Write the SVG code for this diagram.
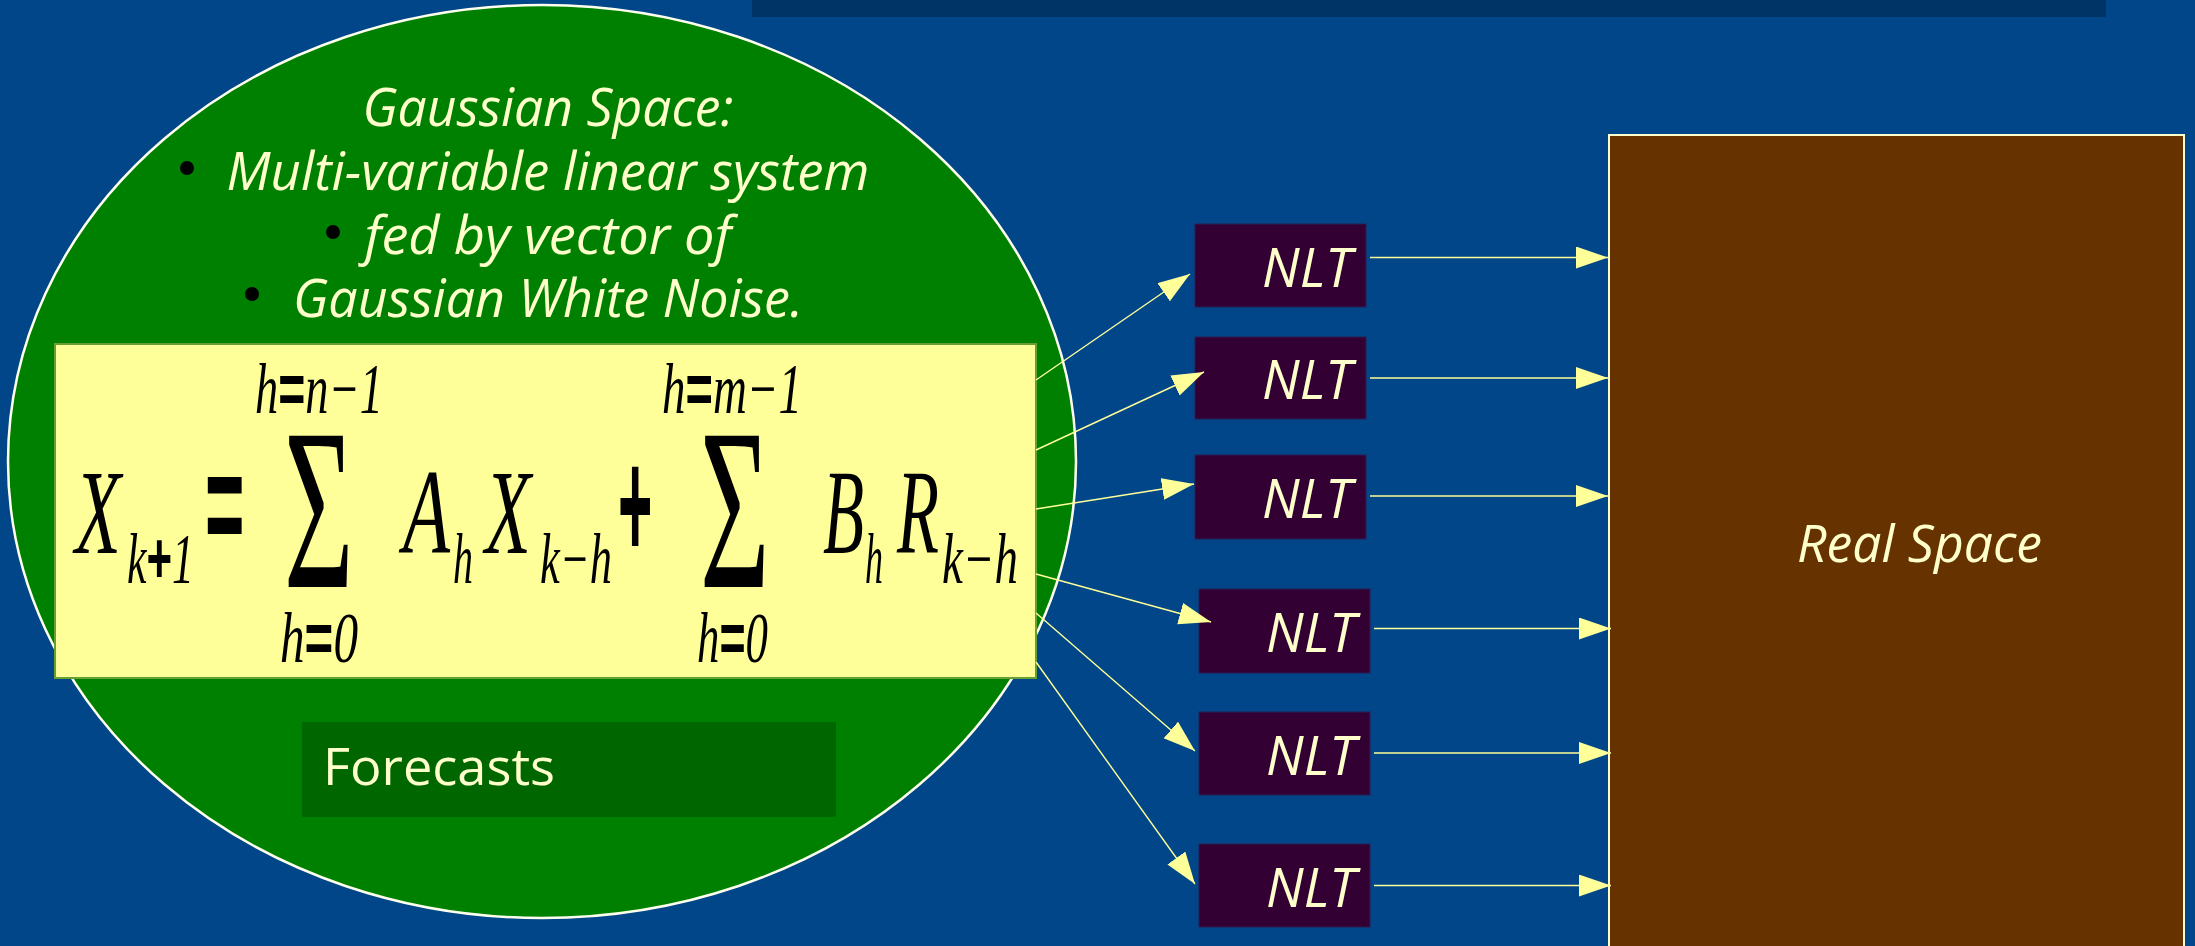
<svg xmlns="http://www.w3.org/2000/svg" width="2195" height="946" viewBox="0 0 2195 946">
<defs>
<style>
.cap{font-family:"Open Sans","Noto Sans",sans-serif;font-style:italic;fill:#ffffcc;font-size:53px;text-anchor:middle}
.nlt{font-family:"Open Sans","Noto Sans",sans-serif;font-style:italic;fill:#ffffcc;font-size:54px}
.m{font-family:"Liberation Serif",serif;font-style:italic;fill:#000}
.big{font-size:121px}
.sub{font-size:72px}
.op{font-family:"Liberation Sans",sans-serif;font-style:normal;font-weight:bold;fill:#000}
.sig{font-family:"Liberation Serif",serif;font-style:normal;font-size:230px;fill:#000}
.nbox{fill:#330033;stroke:#2a1f55;stroke-width:1}
.con{stroke:#ffff99;stroke-width:1.4;fill:none;marker-end:url(#ah)}
</style>
<marker id="ah" markerUnits="userSpaceOnUse" markerWidth="34" markerHeight="24" refX="32" refY="11" orient="auto" viewBox="0 0 34 24">
<path d="M0,0 L32,11 L0,22 Z" fill="#ffff99"/>
</marker>
</defs>
<rect id="background" x="0" y="0" width="2195" height="946" fill="#004688"/>
<rect id="title-band" x="752" y="0" width="1354" height="17" fill="#003366"/>

<g id="gaussian-space">
<ellipse cx="542" cy="461.5" rx="534" ry="456.5" fill="#008000" stroke="#ffffee" stroke-width="2.5"/>
<text class="cap" x="548" y="126" textLength="371" lengthAdjust="spacingAndGlyphs">Gaussian Space:</text>
<circle cx="187" cy="168" r="7" fill="#000"/>
<text class="cap" x="548" y="190" textLength="643" lengthAdjust="spacingAndGlyphs">Multi-variable linear system</text>
<circle cx="333" cy="232" r="7" fill="#000"/>
<text class="cap" x="548" y="254" textLength="367" lengthAdjust="spacingAndGlyphs">fed by vector of</text>
<circle cx="252" cy="294" r="7" fill="#000"/>
<text class="cap" x="548" y="317" textLength="510" lengthAdjust="spacingAndGlyphs">Gaussian White Noise.</text>
</g>

<g id="formula">
<rect x="55" y="344" width="981" height="334" fill="#ffff99" stroke="#66a033" stroke-width="2"/>
<text class="m sub" x="255" y="413" textLength="128" lengthAdjust="spacingAndGlyphs">h<tspan class="op">=</tspan>n−1</text>
<text class="m sub" x="662" y="413" textLength="140" lengthAdjust="spacingAndGlyphs">h<tspan class="op">=</tspan>m−1</text>
<text class="m big" x="75" y="553" textLength="46" lengthAdjust="spacingAndGlyphs">X</text>
<text class="m sub" x="127" y="583" textLength="67" lengthAdjust="spacingAndGlyphs">k<tspan class="op">+</tspan>1</text>
<text class="op" transform="translate(205,555) scale(0.45,1)" font-size="150">=</text>
<text class="sig" transform="translate(284,587) scale(0.52,1)">Σ</text>
<text class="m big" x="403" y="553" textLength="47" lengthAdjust="spacingAndGlyphs">A</text>
<text class="m sub" x="453" y="583" textLength="20" lengthAdjust="spacingAndGlyphs">h</text>
<text class="m big" x="485" y="553" textLength="46" lengthAdjust="spacingAndGlyphs">X</text>
<text class="m sub" x="540" y="583" textLength="72" lengthAdjust="spacingAndGlyphs">k−h</text>
<text class="op" transform="translate(618,558) scale(0.38,1)" font-size="155">+</text>
<text class="sig" transform="translate(700,587) scale(0.52,1)">Σ</text>
<text class="m big" x="823" y="553" textLength="41" lengthAdjust="spacingAndGlyphs">B</text>
<text class="m sub" x="865" y="583" textLength="18" lengthAdjust="spacingAndGlyphs">h</text>
<text class="m big" x="897" y="553" textLength="42" lengthAdjust="spacingAndGlyphs">R</text>
<text class="m sub" x="942" y="583" textLength="76" lengthAdjust="spacingAndGlyphs">k−h</text>
<text class="m sub" x="280" y="662" textLength="78" lengthAdjust="spacingAndGlyphs">h<tspan class="op">=</tspan>0</text>
<text class="m sub" x="697" y="662" textLength="71" lengthAdjust="spacingAndGlyphs">h<tspan class="op">=</tspan>0</text>
</g>

<g id="forecasts">
<rect x="302" y="722" width="534" height="95" fill="#006600"/>
<text x="323" y="785" font-family="'Open Sans','Noto Sans',sans-serif" font-size="52" fill="#ffffcc" textLength="232" lengthAdjust="spacingAndGlyphs">Forecasts</text>
</g>

<g id="nlt-1"><rect class="nbox" x="1195" y="224" width="171" height="83"/><text class="nlt" x="1262" y="287" textLength="90" lengthAdjust="spacingAndGlyphs">NLT</text></g>
<g id="nlt-2"><rect class="nbox" x="1195" y="337" width="171" height="82"/><text class="nlt" x="1262" y="399" textLength="90" lengthAdjust="spacingAndGlyphs">NLT</text></g>
<g id="nlt-3"><rect class="nbox" x="1195" y="455" width="171" height="84"/><text class="nlt" x="1262" y="518" textLength="90" lengthAdjust="spacingAndGlyphs">NLT</text></g>
<g id="nlt-4"><rect class="nbox" x="1199" y="589" width="171" height="84"/><text class="nlt" x="1266" y="652" textLength="90" lengthAdjust="spacingAndGlyphs">NLT</text></g>
<g id="nlt-5"><rect class="nbox" x="1199" y="712" width="171" height="83"/><text class="nlt" x="1266" y="775" textLength="90" lengthAdjust="spacingAndGlyphs">NLT</text></g>
<g id="nlt-6"><rect class="nbox" x="1199" y="844" width="171" height="83"/><text class="nlt" x="1266" y="907" textLength="90" lengthAdjust="spacingAndGlyphs">NLT</text></g>

<g id="real-space">
<rect x="1609" y="135" width="575" height="830" fill="#663300" stroke="#ffffcc" stroke-width="2"/>
<text x="1797" y="562" font-family="'Open Sans','Noto Sans',sans-serif" font-style="italic" font-size="51" fill="#ffffcc" textLength="245" lengthAdjust="spacingAndGlyphs">Real Space</text>
</g>

<g id="connectors">
<line class="con" x1="1036" y1="380" x2="1190" y2="274"/>
<line class="con" x1="1036" y1="450" x2="1204" y2="372"/>
<line class="con" x1="1036" y1="509" x2="1194" y2="484"/>
<line class="con" x1="1036" y1="574" x2="1211" y2="622"/>
<line class="con" x1="1036" y1="613" x2="1195" y2="751"/>
<line class="con" x1="1036" y1="662" x2="1195" y2="884"/>
<line class="con" x1="1370" y1="257.5" x2="1608" y2="257.5"/>
<line class="con" x1="1370" y1="378" x2="1608" y2="378"/>
<line class="con" x1="1370" y1="496" x2="1608" y2="496"/>
<line class="con" x1="1374" y1="628.5" x2="1611" y2="628.5"/>
<line class="con" x1="1374" y1="753" x2="1611" y2="753"/>
<line class="con" x1="1374" y1="885.5" x2="1611" y2="885.5"/>
</g>
</svg>
